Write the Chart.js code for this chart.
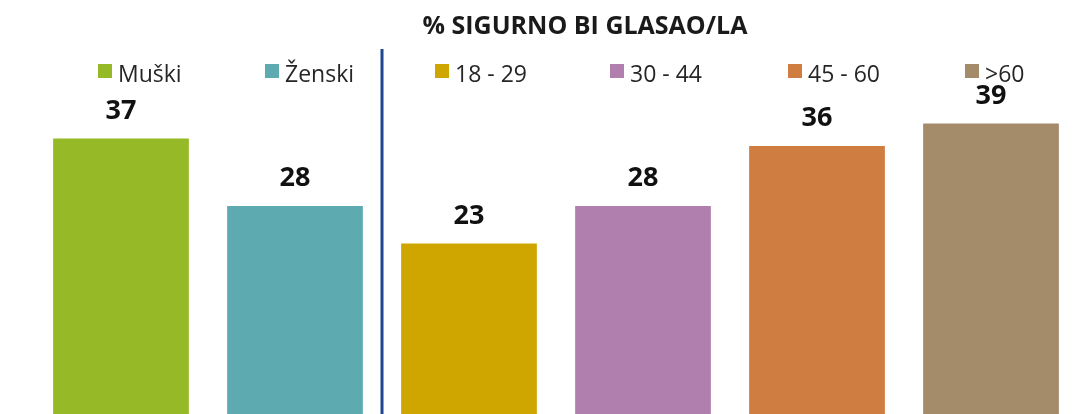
<!DOCTYPE html>
<html>
<head>
<meta charset="utf-8">
<script src="https://cdn.jsdelivr.net/npm/chart.js@4/dist/chart.umd.min.js"></script>
<style>
  html, body { margin: 0; padding: 0; background: #fff; }
  #wrap { width: 1090px; height: 414px; overflow: hidden; position: relative; }
  canvas { display: block; }
</style>
</head>
<body>
<div id="wrap"><canvas id="c" width="1090" height="418"></canvas></div>
<script>
// podaci
const CATEGORIES = ['Muški', 'Ženski', '18 - 29', '30 - 44', '45 - 60', '>60'];
const VALUES = [37, 28, 23, 28, 36, 39];
const TITLE = '% SIGURNO BI GLASAO/LA';

// stil
const COLORS = ['#95B927', '#5DAAB0', '#CFA500', '#B07FAD', '#D07D41', '#A48B69'];
const LEGEND_X = [98, 265, 435, 610, 788, 965]; // početak kvadratića legende
const FONT = "'Open Sans', 'Noto Sans', sans-serif";

const overlay = {
  id: 'overlay',
  afterDatasetsDraw(chart) {
    const { ctx } = chart;
    const xs = chart.scales.x;
    const meta = chart.getDatasetMeta(0);
    ctx.save();

    // naslov
    ctx.fillStyle = '#1a1a1a';
    ctx.font = `bold 25px ${FONT}`;
    ctx.textAlign = 'center';
    ctx.textBaseline = 'alphabetic';
    ctx.fillText(TITLE, 585, 34);

    // razdjelnik spol / dob
    const xSep = (xs.getPixelForValue(1) + xs.getPixelForValue(2)) / 2;
    ctx.fillStyle = '#1F4690';
    ctx.fillRect(Math.round(xSep) - 1.5, 49, 3, 380);

    // legenda
    ctx.font = `23px ${FONT}`;
    ctx.textAlign = 'left';
    CATEGORIES.forEach((name, i) => {
      ctx.fillStyle = COLORS[i];
      ctx.fillRect(LEGEND_X[i], 64, 14, 14);
      ctx.fillStyle = '#262626';
      ctx.fillText(name, LEGEND_X[i] + 20, 82);
    });

    // vrijednosti iznad stupaca
    ctx.font = `bold 27px ${FONT}`;
    ctx.textAlign = 'center';
    ctx.fillStyle = '#111';
    meta.data.forEach((bar, i) => {
      ctx.fillText(String(VALUES[i]), bar.x, bar.y - 20);
    });
    ctx.restore();
  },
};

new Chart(document.getElementById('c'), {
  type: 'bar',
  data: {
    labels: CATEGORIES,
    datasets: [{
      data: VALUES,
      backgroundColor: COLORS,
      borderWidth: 0,
      barPercentage: 0.78,
      categoryPercentage: 1,
    }],
  },
  options: {
    responsive: false,
    animation: false,
    events: [],
    layout: { padding: { left: 34, right: 12, top: 41, bottom: 2 } },
    plugins: { legend: { display: false }, title: { display: false }, tooltip: { enabled: false } },
    scales: {
      x: { display: false },
      y: { display: false, min: 0, max: 50 },
    },
  },
  plugins: [overlay],
});
</script>
</body>
</html>
